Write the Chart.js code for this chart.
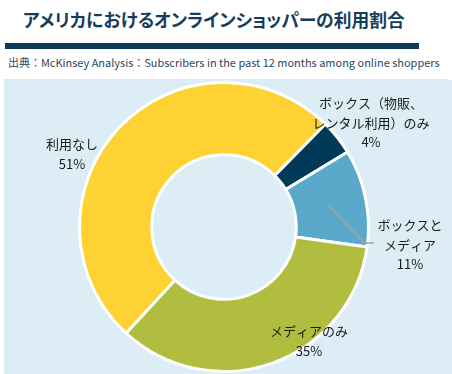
<!DOCTYPE html>
<html><head><meta charset="utf-8">
<script src="https://cdn.jsdelivr.net/npm/chart.js@4"></script>
<style>
html,body{margin:0;padding:0;background:#fff;width:452px;height:374px;overflow:hidden;font-family:"Noto Sans CJK JP","Noto Sans",sans-serif;}
#title{position:absolute;left:23px;top:6px;font-size:20px;font-weight:bold;color:#173d5c;white-space:nowrap;font-feature-settings:"palt";letter-spacing:0;}
#bar{position:absolute;left:5px;top:43px;width:414px;height:6px;background:#0b3a58;}
#src{position:absolute;left:8px;top:54px;font-size:11px;color:#33475b;white-space:nowrap;}
#sep{position:absolute;left:3px;top:79px;width:445px;height:1px;background:#e3e9ee;}
#panel{position:absolute;left:4px;top:80px;width:448px;height:294px;background:#dcedf5;}
#wrap{position:absolute;left:4px;top:80px;width:448px;height:294px;}
</style></head>
<body>
<div id="title">アメリカにおけるオンラインショッパーの利用割合</div>
<div id="bar"></div>
<div id="src">出典：McKinsey Analysis：Subscribers in the past 12 months among online shoppers</div>
<div id="sep"></div>
<div id="panel"></div>
<div id="wrap"><canvas id="c" width="448" height="294"></canvas></div>
<script>
const categories = ["ボックス（物販、\nレンタル利用）のみ", "ボックスと\nメディア", "メディアのみ", "利用なし"];
const values = [4, 11, 35, 51];
const colors = ["#003a57", "#5aa9cb", "#b0bd3f", "#fed233"];
// label anchor offsets relative to chart centre (layout only)
const labelPos = [[147, -104], [186, 18], [85, 114], [-152, -73]];

function fit(id, w){const el=document.getElementById(id);const r=el.getBoundingClientRect().width;const fs=parseFloat(getComputedStyle(el).fontSize);el.style.fontSize=(fs*w/r)+"px";}
fit("title", 382); fit("src", 432);

const labelPlugin = {
  id: "labels",
  afterDraw(chart){
    const ctx = chart.ctx;
    const meta = chart.getDatasetMeta(0);
    const arc0 = meta.data[0];
    const cx = arc0.x, cy = arc0.y, R = arc0.outerRadius;
    // leader line for the blue slice
    const a = meta.data[1];
    const mid = (a.startAngle + a.endAngle)/2;
    const r1 = R*0.74;
    ctx.save();
    ctx.strokeStyle = "#a3a3a3"; ctx.lineWidth = 1.5;
    ctx.beginPath();
    ctx.moveTo(cx + Math.cos(mid)*r1, cy + Math.sin(mid)*r1);
    const ex = cx + 140, ey = cy + 16;
    ctx.lineTo(ex, ey);
    ctx.lineTo(ex + 10, ey);
    ctx.stroke();
    ctx.font = '13px "Noto Sans CJK JP"';
    ctx.fillStyle = "#1a1a1a";
    ctx.textAlign = "center"; ctx.textBaseline = "middle";
    categories.forEach((c, i) => {
      const lines = c.split("\n").concat([values[i] + "%"]);
      const [dx, dy] = labelPos[i];
      const lh = 19.5;
      const y0 = cy + dy - (lines.length-1)*lh/2;
      lines.forEach((ln, j) => ctx.fillText(ln, cx + dx, y0 + j*lh));
    });
    ctx.restore();
  }
};

new Chart(document.getElementById("c"), {
  type: "doughnut",
  data: { labels: categories, datasets: [{ data: values, backgroundColor: colors, borderColor: "#ffffff", borderWidth: 3, hoverOffset: 0 }] },
  options: {
    responsive: false, animation: false, rotation: 44.5, cutout: "50%",
    layout: { padding: { left: 74, right: 82, top: 0, bottom: 0 } },
    plugins: { legend: { display: false }, tooltip: { enabled: false } },
    events: []
  },
  plugins: [labelPlugin]
});
</script>
</body></html>
